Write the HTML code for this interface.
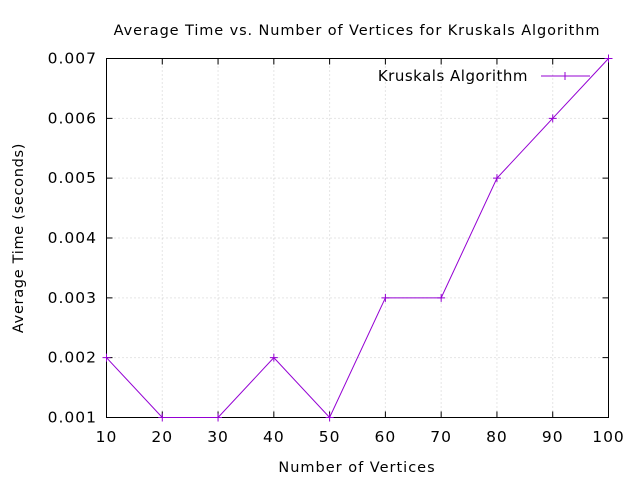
<!DOCTYPE html>
<html><head><meta charset="utf-8"><style>
body{margin:0;background:#fff}
svg{display:block;font-family:"DejaVu Sans","Liberation Sans",sans-serif}
</style></head><body>
<svg id="c" width="640" height="480">
<text x="357" y="35" text-anchor="middle" font-size="14.5" letter-spacing="0.9">Average Time vs. Number of Vertices for Kruskals Algorithm</text>
<text x="357" y="472" text-anchor="middle" font-size="14.5" letter-spacing="1">Number of Vertices</text>
<text transform="translate(23,238) rotate(-90)" text-anchor="middle" font-size="14.5" letter-spacing="0.7">Average Time (seconds)</text>
<g id="grid"></g><g id="axes"></g><g id="series"></g>
<g>
<text x="528" y="81" text-anchor="end" font-size="15" letter-spacing="0.5">Kruskals Algorithm</text>
<line x1="541" y1="76" x2="590" y2="76" stroke="#9400d3" stroke-width="1"/>
<path d="M561 76h8M565 72v8" stroke="#9400d3"/>
</g>
</svg>
<script>
const xValues=[10,20,30,40,50,60,70,80,90,100];
const yValues=[0.002,0.001,0.001,0.002,0.001,0.003,0.003,0.005,0.006,0.007];
const xTicks=[10,20,30,40,50,60,70,80,90,100];
const yTicks=[0.001,0.002,0.003,0.004,0.005,0.006,0.007];
const L=106.5,R=608.5,T=58.5,B=417.5;
const xs=v=>L+(v-10)/90*(R-L);
const ys=v=>B-(v-0.001)/0.006*(B-T);
const NS="http://www.w3.org/2000/svg";
function mk(p,t,a){const e=document.createElementNS(NS,t);for(const k in a)e.setAttribute(k,a[k]);document.getElementById(p).appendChild(e);return e;}
xTicks.forEach(v=>{const x=xs(v);
if(v!==10&&v!==100){const g=mk('grid','line',{x1:x,y1:T,x2:x,y2:B,stroke:'#ccc','stroke-dasharray':'1,3'});

}
const t1=mk('axes','path',{d:`M${x} ${B}v-6M${x} ${T}v6`,stroke:'#000'});


const tl=mk('axes','text',{x:x,y:442,'text-anchor':'middle','font-size':15.5,'letter-spacing':1});tl.textContent=v;

});
yTicks.forEach(v=>{const y=ys(v);
if(v!==0.001&&v!==0.007){const g=mk('grid','line',{x1:L,y1:y,x2:R,y2:y,stroke:'#ccc','stroke-dasharray':'1,3'});

}
const t1=mk('axes','path',{d:`M${L} ${y}h6M${R} ${y}h-6`,stroke:'#000'});


const tl=mk('axes','text',{x:97,y:y+5,'text-anchor':'end','font-size':15.5,'letter-spacing':1});tl.textContent=v.toFixed(3);

});
const br=mk('axes','rect',{x:L,y:T,width:R-L,height:B-T,fill:'none',stroke:'#000'});


const pts=xValues.map((v,i)=>xs(v)+','+ys(yValues[i])).join(' ');
const pl=mk('series','polyline',{points:pts,fill:'none',stroke:'#9400d3'});


xValues.forEach((v,i)=>{const x=xs(v),y=ys(yValues[i]);
const m=mk('series','path',{d:`M${x-4} ${y}h8M${x} ${y-4}v8`,stroke:'#9400d3'});

});
</script>
</body></html>
